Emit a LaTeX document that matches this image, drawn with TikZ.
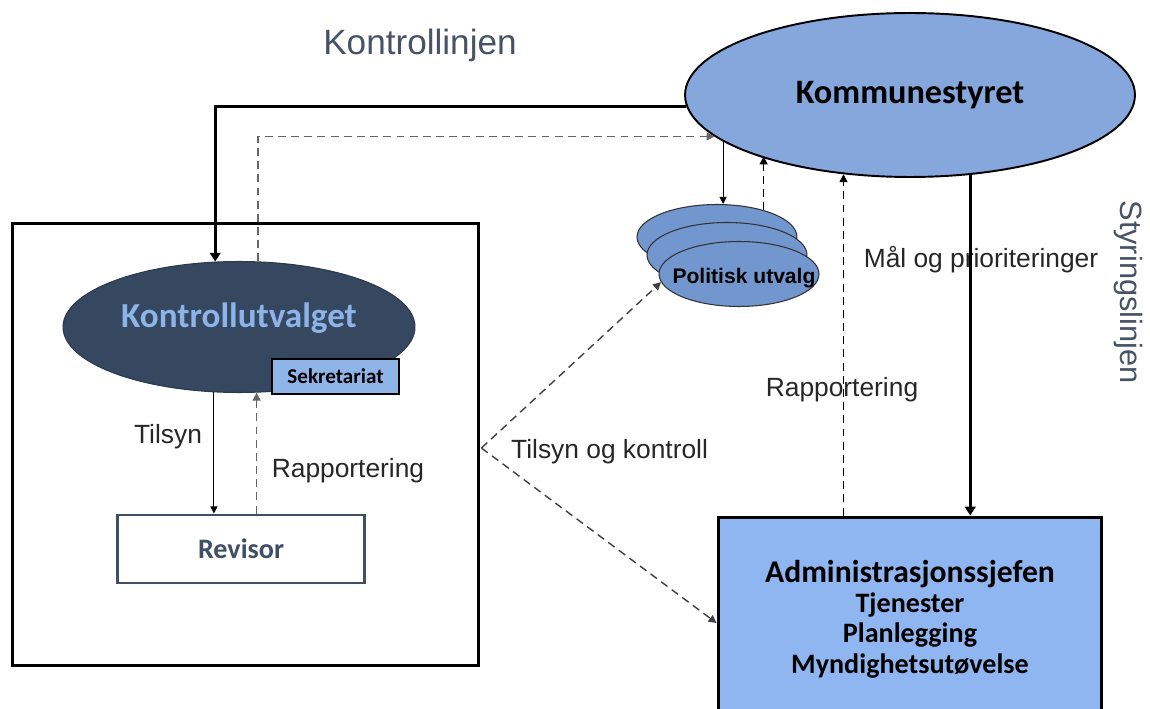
\documentclass[tikz,border=0pt]{standalone}
\usepackage{fontspec}
\newfontfamily\arialfont{Liberation Sans}
\newfontfamily\calfont{Carlito}
\usetikzlibrary{calc,shapes.geometric,arrows.meta}
\definecolor{kommBlue}{RGB}{133,167,220}
\definecolor{polBlue}{RGB}{114,150,206}
\definecolor{kutvDark}{RGB}{54,71,96}
\definecolor{kutvText}{RGB}{141,180,232}
\definecolor{sekBlue}{RGB}{142,180,232}
\definecolor{admBlue}{RGB}{143,182,240}
\definecolor{revSlate}{RGB}{63,79,102}
\definecolor{linjeGrey}{RGB}{72,82,102}
\newcommand{\CalB}[1]{\calfont\bfseries\fontsize{#1}{#1}\selectfont}

\begin{document}
\begin{tikzpicture}[x=0.02cm,y=-0.02cm,
  tykk/.style={line width=1.7pt,-{Triangle[length=5pt,width=6pt]}},
  tynn/.style={line width=0.6pt,-{Triangle[length=4pt,width=4pt]}},
  stiplet/.style={line width=0.8pt,dash pattern=on 4.5pt off 3pt,-{Triangle[length=4.5pt,width=4.5pt]}},
  etikett/.style={font=\arialfont\fontsize{15}{18}\selectfont,text=black!85},
  utvalg/.style={ellipse,draw=black!80,line width=0.6pt,fill=polBlue,minimum width=3.2cm,minimum height=1.3cm,inner sep=0pt}]
\useasboundingbox (0,0) rectangle (1150,709);
\clip (0,0) rectangle (1150,709);

% rammen rundt kontrollsiden
\node[draw,line width=1.7pt,minimum width=9.34cm,minimum height=8.86cm,inner sep=0pt] (ramme) at (245.5,444.5) {};

% hovednoder
\node[ellipse,draw,line width=1.1pt,fill=kommBlue,minimum width=9cm,minimum height=3.28cm,inner sep=0pt,font=\CalB{19.5}] (komm) at (910,95) {Kommunestyret};
\node[ellipse,draw=kutvDark!80!black,line width=0.6pt,fill=kutvDark,minimum width=7.04cm,minimum height=2.62cm,inner sep=0pt,
  label={[font=\CalB{20},text=kutvText,yshift=0.18cm]center:Kontrollutvalget}] (kutv) at (239,327) {};
\node[draw,line width=0.9pt,fill=sekBlue,minimum width=2.54cm,minimum height=0.7cm,inner sep=0pt,font=\CalB{12}] (sek) at (335.5,376.5) {Sekretariat};
\node[draw=revSlate,line width=1.7pt,fill=white,minimum width=4.96cm,minimum height=1.36cm,inner sep=0pt,text=revSlate,font=\CalB{16}] (rev) at (241,549) {Revisor};
\node[draw,line width=1.7pt,fill=admBlue,minimum width=7.68cm,minimum height=4.08cm,inner sep=0pt,align=center,
  font=\calfont\bfseries\fontsize{16}{17.2}\selectfont] (adm) at (910,619)
  {{\CalB{18}Administrasjonssjefen}\\ Tjenester\\ Planlegging\\ Myndighetsutøvelse};

% politiske utvalg, tre lag
\node[utvalg] (pu1) at (717,237) {};
\node[utvalg] (pu2) at (727,255) {};
\node[utvalg,label={[font=\arialfont\bfseries\fontsize{12}{12}\selectfont,xshift=0.1cm,yshift=-0.08cm]center:Politisk utvalg}] (pu3) at (739,274) {};

% etiketter
\node[font=\arialfont\fontsize{20}{24}\selectfont,text=linjeGrey] (kl) at (420,45) {Kontrollinjen};
\node[font=\arialfont\fontsize{17.5}{20}\selectfont,text=linjeGrey,rotate=-90] (sl) at (1128,292) {Styringslinjen};
\node[etikett] (l1) at (168,437) {Tilsyn};
\node[etikett] (l2) at (348,471) {Rapportering};
\node[etikett,anchor=west] (l3) at (505,452) {Tilsyn og kontroll};
\node[etikett] (l4) at (981,260) {Mål og prioriteringer};
\node[etikett] (l5) at (842,390) {Rapportering};

% piler
\draw[tykk] (komm.183.6) -| (kutv.110.3);
\draw[stiplet,black!60] (kutv.74.6) |- (komm.192.3);
\draw[tynn] (kutv.249.7) -- (kutv.249.7 |- rev.north);
\draw[stiplet,black!60] (rev.north -| kutv.285.4) -- (kutv.285.4);
\draw[tynn] (komm.194.8) -- (komm.194.8 |- pu1.north);
\draw[stiplet] (pu1.30) -- (pu1.30 |- komm.202.9);
\draw[stiplet] (adm.north -| komm.230.8) -- (komm.230.8);
\draw[tykk] (komm.307.2) -- (komm.307.2 |- adm.north);
\coordinate (tk) at ($(ramme.east)+(1,3.5)$);
\draw[stiplet,black!75] (tk) -- (pu3.186);
\draw[stiplet,black!75] (tk) -- ($(adm.west)+(0,4)$);
\end{tikzpicture}
\end{document}
